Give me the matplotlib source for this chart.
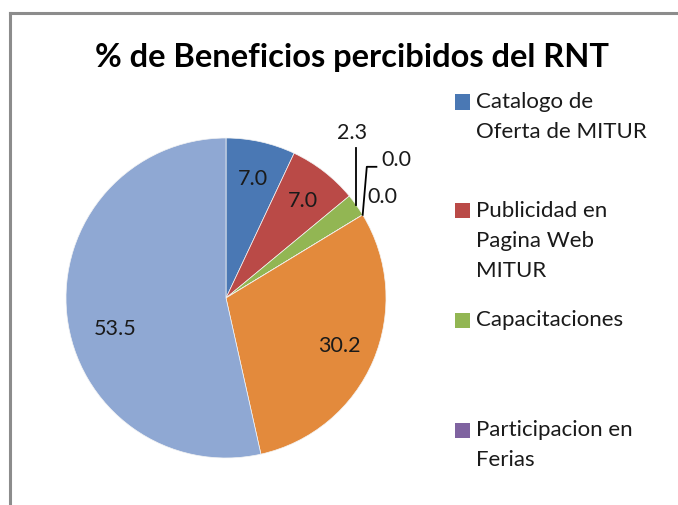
import matplotlib
matplotlib.use("Agg")
import matplotlib.pyplot as plt
import numpy as np
from matplotlib.patches import Rectangle
from matplotlib.lines import Line2D

title = "% de Beneficios percibidos del RNT"
categories = ["Catalogo de\nOferta de MITUR",
              "Publicidad en\nPagina Web\nMITUR",
              "Capacitaciones",
              "Participacion en\nFerias",
              "Otros 1",
              "Otros 2",
              "Otros 3"]
values = [7.0, 7.0, 2.3, 0.0, 0.0, 30.2, 53.5]
colors = ["#4A78B4", "#BA4A47", "#92B653", "#7F63A0", "#4AACC5", "#E38A3C", "#8FA8D3"]
legend_shown = 4

W, H = 678, 505
fig = plt.figure(figsize=(W / 100, H / 100), dpi=100)
FONT = "Lato"
LBL = 15.5

# outer frame lines (top & left)
fig.add_artist(Line2D([10 / W, 1], [1 - 13 / H, 1 - 13 / H], color="#8c8c8c", lw=2.2))
fig.add_artist(Line2D([10 / W, 10 / W], [1 - 13 / H, 0], color="#8c8c8c", lw=2.2))

cx, cy, r = 226, 298, 160
ax = fig.add_axes([(cx - r) / W, (H - cy - r) / H, 2 * r / W, 2 * r / H])
wedges, _ = ax.pie(values, colors=colors, startangle=90, counterclock=False,
                   radius=1, wedgeprops=dict(linewidth=0.5, edgecolor="#f4f4f4"))
ax.set_xlim(-1, 1)
ax.set_ylim(-1, 1)
ax.set_aspect("equal")
ax.axis("off")

# data labels
total = sum(values)
cum = np.cumsum([0] + values)
def mid_angle(i):
    frac = (cum[i] + values[i] / 2) / total
    return np.deg2rad(90 - 360 * frac)

inside_offsets = {0: (0.0, -0.01), 1: (0.01, 0.0), 5: (0.0, 0.0), 6: (0.07, -0.11)}
for i, (dx, dy) in inside_offsets.items():
    a = mid_angle(i)
    x, y = 0.77 * np.cos(a) + dx, 0.77 * np.sin(a) + dy
    ax.text(x, y, f"{values[i]:.1f}", ha="center", va="center",
            fontsize=LBL, family=FONT, color="#1a1a1a")

# outside labels with leader lines
a2 = mid_angle(2)
p2 = (np.cos(a2), np.sin(a2))
ax.plot([p2[0], p2[0]], [p2[1], 0.94], color="black", lw=1.3, clip_on=False)
ax.text(0.79, 1.03, f"{values[2]:.1f}", ha="center", va="center",
        fontsize=LBL, family=FONT, color="#1a1a1a")

a3 = mid_angle(3)
p3 = (np.cos(a3), np.sin(a3))
ax.plot([p3[0], 0.88, 0.94], [p3[1], 0.82, 0.82], color="black", lw=1.3, clip_on=False)
ax.text(1.065, 0.86, f"{values[3]:.1f}", ha="center", va="center",
        fontsize=LBL, family=FONT, color="#1a1a1a")
ax.text(0.975, 0.63, f"{values[4]:.1f}", ha="center", va="center",
        fontsize=LBL, family=FONT, color="#1a1a1a")

# title
fig.text(352 / W, 1 - 67 / H, title, ha="center", va="baseline",
         fontsize=23.5, fontweight="bold", family=FONT, color="black")

# legend (only first entries visible)
leg_centers = [102, 211, 320, 430]
for i in range(legend_shown):
    yc = leg_centers[i]
    fig.add_artist(Rectangle((455 / W, 1 - (yc + 7.5) / H), 15 / W, 15 / H,
                             transform=fig.transFigure, facecolor=colors[i],
                             edgecolor="none"))
    for k, line in enumerate(categories[i].split("\n")):
        fig.text(476 / W, 1 - (yc + 30 * k) / H, line, ha="left", va="center",
                 fontsize=16, family=FONT, color="#1a1a1a")

fig.savefig("out.png", dpi=100, facecolor="white")
